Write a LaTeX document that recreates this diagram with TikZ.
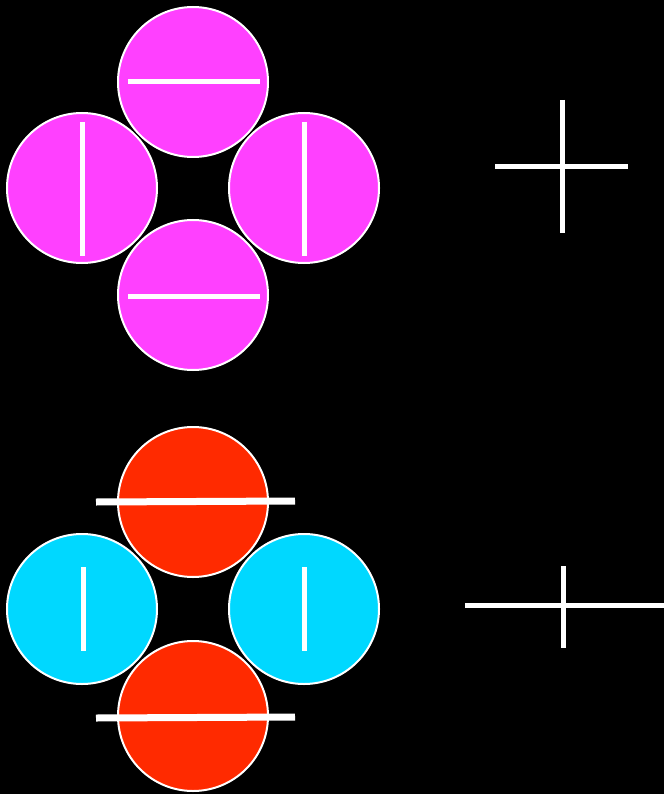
\documentclass[tikz,border=0pt]{standalone}
\begin{document}
\begin{tikzpicture}[x=1pt,y=-1pt,
  disc/.style={circle,draw=white,line width=2pt,minimum size=150pt,inner sep=0pt},
  bar/.style={white,line width=5pt},
  thickbar/.style={white,line width=7pt}]
\definecolor{mag}{HTML}{FF40FF}
\definecolor{redc}{HTML}{FF2A00}
\definecolor{cyanc}{HTML}{00D8FF}
\fill[black] (0,0) rectangle (664,794);
\useasboundingbox (0,0) rectangle (664,794);
% top group
\node[disc,fill=mag] (t1) at (193,82) {};
\node[disc,fill=mag] (t2) at (82,188) {};
\node[disc,fill=mag] (t3) at (304,188) {};
\node[disc,fill=mag] (t4) at (193,295) {};
\coordinate (t1a) at (128,82); \coordinate (t1b) at (260,82);
\coordinate (t2a) at (82,122); \coordinate (t2b) at (82,256);
\coordinate (t3a) at (304,122); \coordinate (t3b) at (304,256);
\coordinate (t4a) at (128,296); \coordinate (t4b) at (260,296);
\draw[bar] (t1a) -- (t1b);
\draw[bar] (t2a) -- (t2b);
\draw[bar] (t3a) -- (t3b);
\draw[bar] (t4a) -- (t4b);
% top plus
\coordinate (p1a) at (562,100); \coordinate (p1b) at (562,233);
\coordinate (p1c) at (495,166.5); \coordinate (p1d) at (628,166.5);
\draw[bar] (p1a) -- (p1b);
\draw[bar] (p1c) -- (p1d);
% bottom group
\node[disc,fill=redc] (b1) at (193,502) {};
\node[disc,fill=cyanc] (b2) at (82,609) {};
\node[disc,fill=cyanc] (b3) at (304,609) {};
\node[disc,fill=redc] (b4) at (193,716) {};
\coordinate (b1a) at (96,502); \coordinate (b1b) at (295,501);
\coordinate (b2a) at (83,567); \coordinate (b2b) at (83,651);
\coordinate (b3a) at (304,567); \coordinate (b3b) at (304,651);
\coordinate (b4a) at (96,718); \coordinate (b4b) at (295,717);
\draw[thickbar] (b1a) -- (b1b);
\draw[bar] (b2a) -- (b2b);
\draw[bar] (b3a) -- (b3b);
\draw[thickbar] (b4a) -- (b4b);
% bottom plus
\coordinate (p2a) at (563.5,566); \coordinate (p2b) at (563.5,648);
\coordinate (p2c) at (465,605.5); \coordinate (p2d) at (664,605.5);
\draw[bar] (p2a) -- (p2b);
\draw[bar] (p2c) -- (p2d);
\end{tikzpicture}
\end{document}
